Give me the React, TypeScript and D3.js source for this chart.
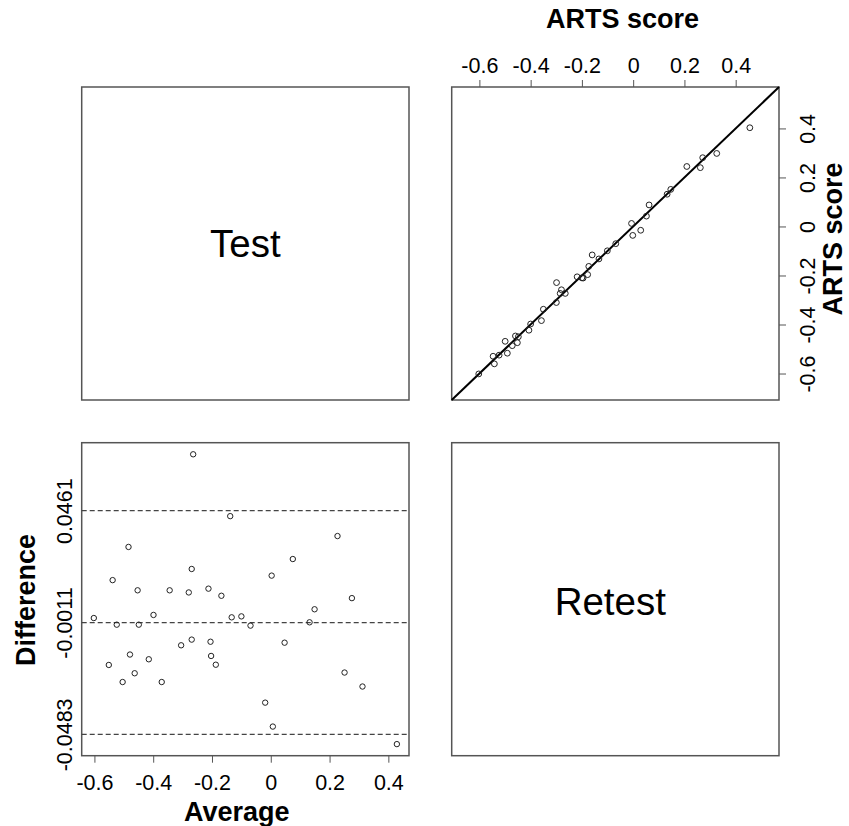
import React, { useEffect, useRef } from 'react';
import * as d3 from 'd3';

// Bland-Altman values (average, test - retest)
const averages = [
  -0.264, -0.138, 0.227, -0.484, 0.075, -0.269, 0.003, -0.538, -0.453, -0.344,
  -0.279, -0.212, -0.168, 0.276, 0.149, -0.602, -0.399, -0.133, -0.100, -0.524,
  -0.449, -0.069, 0.132, -0.269, -0.205, 0.047, -0.305, -0.479, -0.203, -0.415,
  -0.551, -0.187, 0.251, -0.463, -0.504, -0.371, 0.312, -0.019, 0.007, 0.429,
];
const differences = [
  0.0699, 0.0438, 0.0354, 0.0308, 0.0257, 0.0215, 0.0187, 0.0168, 0.0125, 0.0125,
  0.0116, 0.0132, 0.0102, 0.0092, 0.0045, 0.0008, 0.0021, 0.0011, 0.0015, -0.0020,
  -0.0020, -0.0024, -0.0010, -0.0083, -0.0092, -0.0096, -0.0107, -0.0146, -0.0152, -0.0166,
  -0.0190, -0.0189, -0.0222, -0.0225, -0.0262, -0.0262, -0.0281, -0.0349, -0.0450, -0.0524,
];

const tickValues = [-0.6, -0.4, -0.2, 0, 0.2, 0.4];
const tickLabels = ['-0.6', '-0.4', '-0.2', '0', '0.2', '0.4'];
const limitValues = [0.0461, -0.0011, -0.0483];
const limitLabels = ['0.0461', '-0.0011', '-0.0483'];
const scoreRange = [-0.708, 0.569];
const panelNames = ['Test', 'Retest'];

export default function App() {
  const ref = useRef(null);

  useEffect(() => {
    const svg = d3.select(ref.current);
    svg.selectAll('*').remove();

    const font = '"Liberation Sans", Arial, Helvetica, sans-serif';
    const tickFont = 21.5;
    const col0 = 81.7, col1 = 451.7, row0 = 87, row1 = 442.7;
    const w = 327.3, h = 313;

    const test = averages.map((a, i) => a + differences[i] / 2);
    const retest = averages.map((a, i) => a - differences[i] / 2);

    // panel boxes
    [[col0, row0], [col1, row0], [col0, row1], [col1, row1]].forEach(([x, y]) => {
      svg.append('rect')
        .attr('x', x).attr('y', y).attr('width', w).attr('height', h)
        .attr('fill', 'none').attr('stroke', '#555').attr('stroke-width', 1.5);
    });

    // diagonal names
    svg.append('text')
      .attr('x', col0 + w / 2).attr('y', 256.7)
      .attr('text-anchor', 'middle').attr('font-family', font).attr('font-size', 38.5)
      .text(panelNames[0]);
    svg.append('text')
      .attr('x', 610.3).attr('y', 615)
      .attr('text-anchor', 'middle').attr('font-family', font).attr('font-size', 38.5)
      .text(panelNames[1]);

    // top-right: test vs retest
    const x = d3.scaleLinear().domain(scoreRange).range([col1, col1 + w]);
    const y = d3.scaleLinear().domain(scoreRange).range([row0 + h, row0]);

    svg.append('line')
      .attr('x1', x(scoreRange[0])).attr('y1', y(scoreRange[0]))
      .attr('x2', x(scoreRange[1])).attr('y2', y(scoreRange[1]))
      .attr('stroke', '#000').attr('stroke-width', 2);

    svg.append('g')
      .selectAll('circle')
      .data(retest)
      .join('circle')
        .attr('cx', d => x(d))
        .attr('cy', (d, i) => y(test[i]))
        .attr('r', 2.9)
        .attr('fill', 'none')
        .attr('stroke', '#222')
        .attr('stroke-width', 1);

    const topAxis = svg.append('g')
      .attr('transform', `translate(0,${row0})`)
      .call(d3.axisTop(x).tickValues(tickValues).tickFormat((d, i) => tickLabels[i])
        .tickSize(7).tickPadding(7.3).tickSizeOuter(0));
    topAxis.select('.domain').remove();
    topAxis.attr('font-family', font).attr('font-size', tickFont);
    topAxis.selectAll('line').attr('stroke', '#555');
    topAxis.selectAll('text').attr('fill', '#000');

    const rightAxis = svg.append('g')
      .attr('transform', `translate(${col1 + w},0)`)
      .call(d3.axisRight(y).tickValues(tickValues).tickFormat((d, i) => tickLabels[i])
        .tickSize(7).tickSizeOuter(0));
    rightAxis.select('.domain').remove();
    rightAxis.attr('font-family', font).attr('font-size', tickFont);
    rightAxis.selectAll('line').attr('stroke', '#555');
    rightAxis.selectAll('text')
      .attr('x', 0).attr('dy', 0).attr('fill', '#000')
      .attr('text-anchor', 'middle')
      .attr('transform', 'translate(36,0) rotate(-90)');

    svg.append('text')
      .attr('x', 622.5).attr('y', 28.3)
      .attr('text-anchor', 'middle').attr('font-family', font)
      .attr('font-size', 27).attr('font-weight', 'bold')
      .text('ARTS score');
    svg.append('text')
      .attr('transform', 'translate(841.7,239) rotate(-90)')
      .attr('text-anchor', 'middle').attr('font-family', font)
      .attr('font-size', 27).attr('font-weight', 'bold')
      .text('ARTS score');

    // bottom-left: Bland-Altman
    const padX = (d3.max(averages) - d3.min(averages)) * 0.04;
    const padY = (d3.max(differences) - d3.min(differences)) * 0.04;
    const xa = d3.scaleLinear()
      .domain([d3.min(averages) - padX, d3.max(averages) + padX])
      .range([col0, col0 + w]);
    const yd = d3.scaleLinear()
      .domain([d3.min(differences) - padY, d3.max(differences) + padY])
      .range([row1 + h, row1]);

    svg.append('g')
      .selectAll('line')
      .data(limitValues)
      .join('line')
        .attr('x1', col0).attr('x2', col0 + w)
        .attr('y1', d => yd(d)).attr('y2', d => yd(d))
        .attr('stroke', '#444')
        .attr('stroke-width', 1.2)
        .attr('stroke-dasharray', '5,3');

    svg.append('g')
      .selectAll('circle')
      .data(averages)
      .join('circle')
        .attr('cx', d => xa(d))
        .attr('cy', (d, i) => yd(differences[i]))
        .attr('r', 2.7)
        .attr('fill', 'none')
        .attr('stroke', '#222')
        .attr('stroke-width', 1);

    const bottomAxis = svg.append('g')
      .attr('transform', `translate(0,${row1 + h})`)
      .call(d3.axisBottom(xa).tickValues(tickValues).tickFormat((d, i) => tickLabels[i])
        .tickSize(7).tickPadding(11.7).tickSizeOuter(0));
    bottomAxis.select('.domain').remove();
    bottomAxis.attr('font-family', font).attr('font-size', tickFont);
    bottomAxis.selectAll('line').attr('stroke', '#555');
    bottomAxis.selectAll('text').attr('fill', '#000');

    const leftAxis = svg.append('g')
      .attr('transform', `translate(${col0},0)`)
      .call(d3.axisLeft(yd).tickValues(limitValues).tickFormat((d, i) => limitLabels[i])
        .tickSize(0).tickSizeOuter(0));
    leftAxis.select('.domain').remove();
    leftAxis.attr('font-family', font).attr('font-size', tickFont);
    leftAxis.selectAll('text')
      .attr('x', 0).attr('dy', 0).attr('fill', '#000')
      .attr('text-anchor', 'middle')
      .attr('transform', 'translate(-10,0) rotate(-90)');

    svg.append('text')
      .attr('x', 236.7).attr('y', 821)
      .attr('text-anchor', 'middle').attr('font-family', font)
      .attr('font-size', 27).attr('font-weight', 'bold')
      .text('Average');
    svg.append('text')
      .attr('transform', 'translate(35,600) rotate(-90)')
      .attr('text-anchor', 'middle').attr('font-family', font)
      .attr('font-size', 27).attr('font-weight', 'bold')
      .text('Difference');
  }, []);

  return (
    <svg
      ref={ref}
      width={849}
      height={826}
      style={{ position: 'absolute', left: 0, top: 0, background: '#fff' }}
    />
  );
}
